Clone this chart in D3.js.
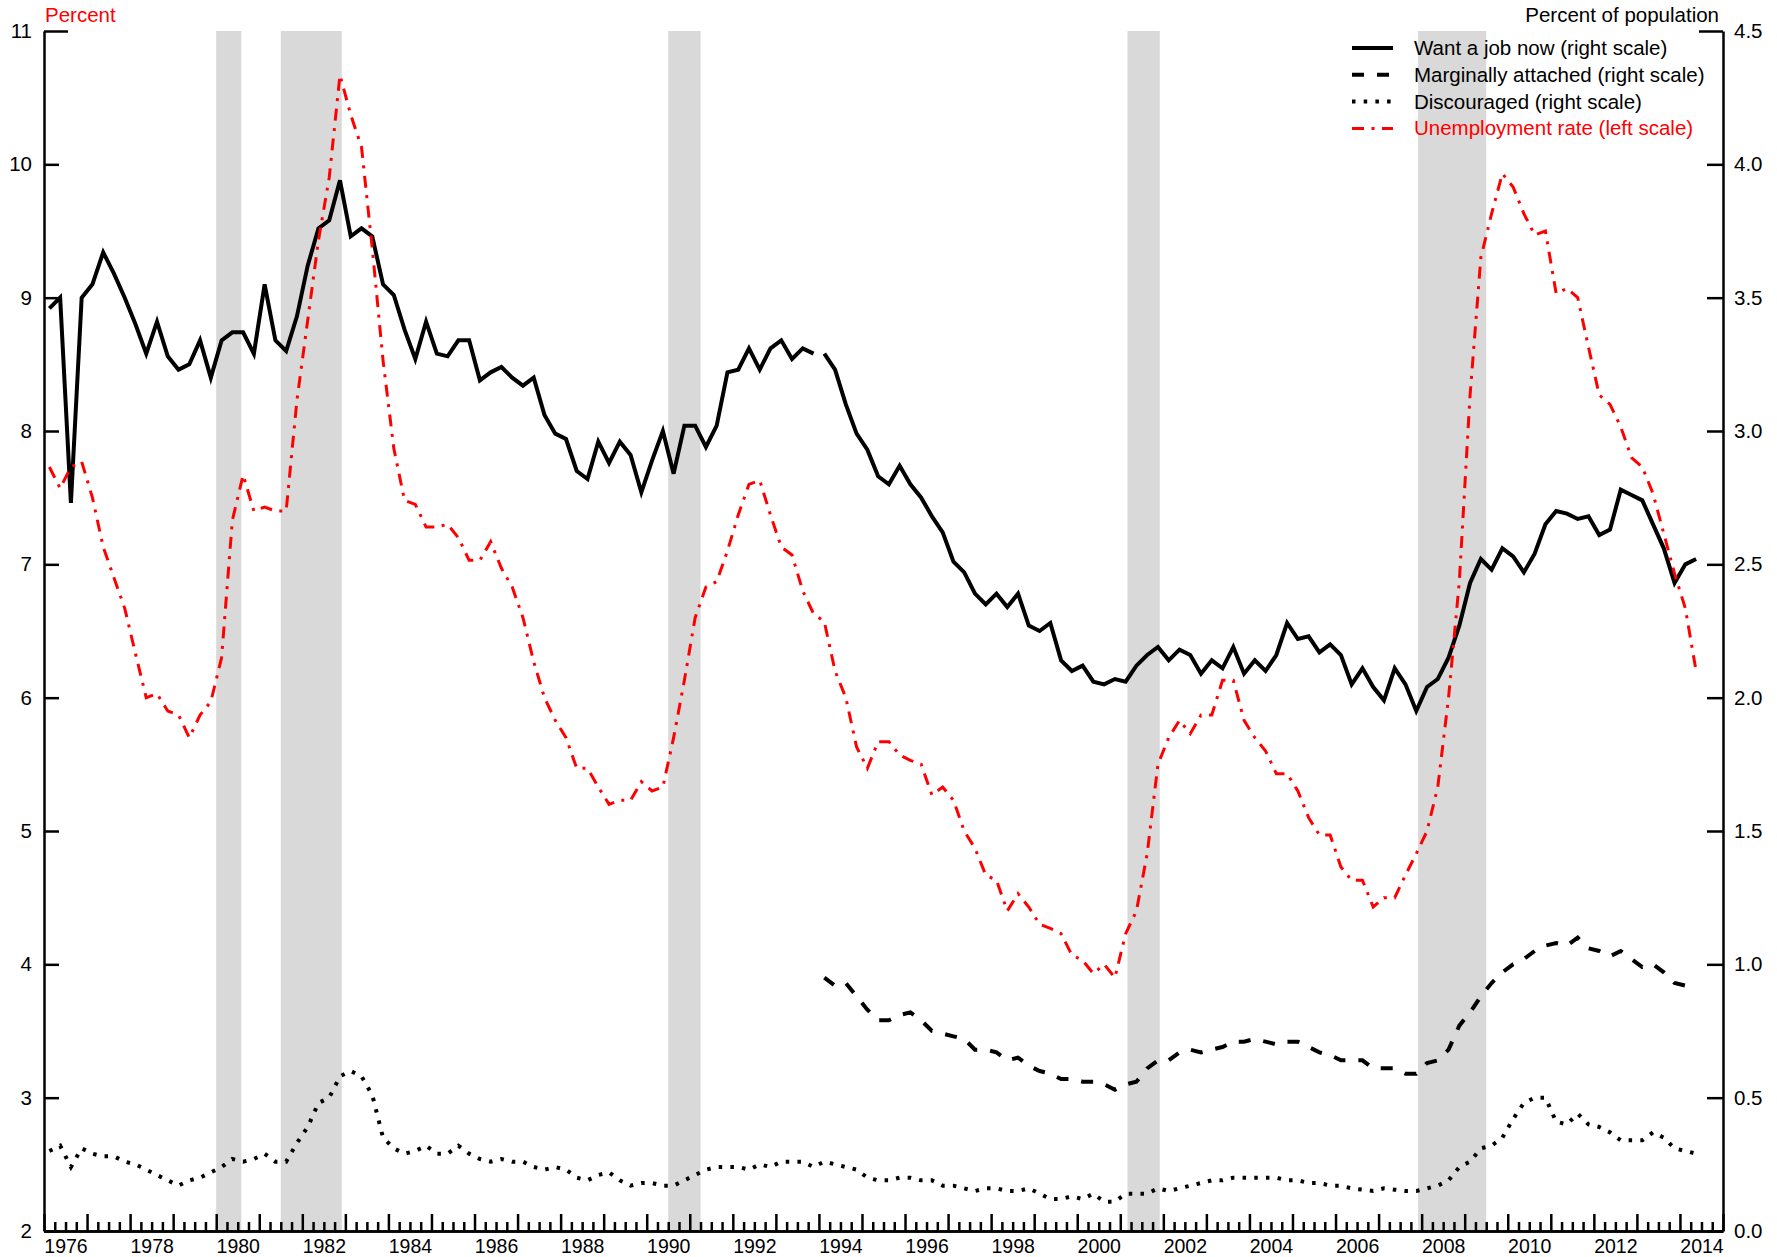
<!DOCTYPE html>
<html>
<head>
<meta charset="utf-8">
<script src="https://cdn.jsdelivr.net/npm/d3@7"></script>
<style>
  body { margin: 0; background: #fff; }
  text { font-family: "Liberation Sans", Arial, sans-serif; }
</style>
</head>
<body>
<script>
// Define SVG area dimensions
const svgWidth = 1777;
const svgHeight = 1257;

// Define the chart's margins as an object
const margin = {
  top: 31,
  right: 54,
  bottom: 26,
  left: 44
};

// Define dimensions of the chart area
const chartWidth = svgWidth - margin.left - margin.right;
const chartHeight = svgHeight - margin.top - margin.bottom;

// Quarterly data, the first value is 1976 Q1
const firstYear = 1976;

// Unemployment rate, percent (left scale), 1976Q1 - 2014Q2
const unemploymentRate = [
  7.73, 7.57, 7.73, 7.77,  7.50, 7.13, 6.90, 6.67,  6.33, 6.00, 6.03, 5.90,  5.87, 5.70, 5.87, 5.97,
  6.30, 7.33, 7.67, 7.40,  7.43, 7.40, 7.40, 8.23,  8.83, 9.43, 9.90, 10.67, 10.37, 10.13, 9.37, 8.53,
  7.87, 7.48, 7.45, 7.28,  7.28, 7.30, 7.20, 7.03,  7.03, 7.17, 6.97, 6.83,  6.60, 6.27, 6.00, 5.83,
  5.70, 5.47, 5.47, 5.33,  5.20, 5.23, 5.23, 5.37,  5.30, 5.33, 5.70, 6.13,  6.60, 6.83, 6.87, 7.10,
  7.37, 7.60, 7.63, 7.37,  7.13, 7.07, 6.80, 6.63,  6.57, 6.20, 6.00, 5.63,  5.47, 5.67, 5.67, 5.57,
  5.53, 5.50, 5.27, 5.33,  5.23, 5.00, 4.87, 4.67,  4.63, 4.40, 4.53, 4.43,  4.30, 4.27, 4.23, 4.07,
  4.03, 3.93, 4.00, 3.90,  4.23, 4.40, 4.83, 5.50,  5.70, 5.83, 5.73, 5.87,  5.87, 6.13, 6.13, 5.83,
  5.70, 5.60, 5.43, 5.43,  5.30, 5.10, 4.97, 4.97,  4.73, 4.63, 4.63, 4.43,  4.50, 4.50, 4.67, 4.83,
  5.00, 5.33, 6.00, 6.87,  8.27, 9.30, 9.63, 9.93,  9.83, 9.63, 9.47, 9.50,  9.03, 9.07, 9.00, 8.63,
  8.27, 8.20, 8.03, 7.80,  7.73, 7.53, 7.23, 6.93,  6.67, 6.20
];

// Want a job now, percent of population (right scale), old survey 1976Q1 - 1993Q4
const wantJobOld = [
  3.46, 3.50, 2.73, 3.50,  3.55, 3.67, 3.59, 3.50,  3.40, 3.29, 3.41, 3.28,  3.23, 3.25, 3.34, 3.20,
  3.34, 3.37, 3.37, 3.29,  3.55, 3.34, 3.30, 3.43,  3.62, 3.76, 3.79, 3.94,  3.73, 3.76, 3.73, 3.55,
  3.51, 3.38, 3.27, 3.41,  3.29, 3.28, 3.34, 3.34,  3.19, 3.22, 3.24, 3.20,  3.17, 3.20, 3.06, 2.99,
  2.97, 2.85, 2.82, 2.96,  2.88, 2.96, 2.91, 2.77,  2.89, 3.00, 2.84, 3.02,  3.02, 2.94, 3.02, 3.22,
  3.23, 3.31, 3.23, 3.31,  3.34, 3.27, 3.31, 3.29
];

// Want a job now, redesigned survey 1994Q1 - 2014Q2
const wantJobNew = [
  3.29, 3.23, 3.10, 2.99,  2.93, 2.83, 2.80, 2.87,  2.80, 2.75, 2.68, 2.62,  2.51, 2.47, 2.39, 2.35,
  2.39, 2.34, 2.39, 2.27,  2.25, 2.28, 2.14, 2.10,  2.12, 2.06, 2.05, 2.07,  2.06, 2.12, 2.16, 2.19,
  2.14, 2.18, 2.16, 2.09,  2.14, 2.11, 2.19, 2.09,  2.14, 2.10, 2.16, 2.28,  2.22, 2.23, 2.17, 2.20,
  2.16, 2.05, 2.11, 2.04,  1.99, 2.11, 2.05, 1.95,  2.04, 2.07, 2.15, 2.27,  2.43, 2.52, 2.48, 2.56,
  2.53, 2.47, 2.54, 2.65,  2.70, 2.69, 2.67, 2.68,  2.61, 2.63, 2.78, 2.76,  2.74, 2.65, 2.56, 2.43,
  2.50, 2.52
];

// Marginally attached, percent of population (right scale), 1994Q1 - 2014Q2
const marginallyAttached = [
  0.95, 0.92, 0.93, 0.88,  0.83, 0.79, 0.79, 0.81,  0.82, 0.79, 0.75, 0.74,  0.73, 0.72, 0.68, 0.68,
  0.67, 0.64, 0.65, 0.62,  0.60, 0.59, 0.57, 0.57,  0.56, 0.56, 0.55, 0.53,  0.55, 0.56, 0.61, 0.64,
  0.64, 0.67, 0.68, 0.67,  0.68, 0.69, 0.71, 0.71,  0.72, 0.71, 0.70, 0.71,  0.71, 0.69, 0.67, 0.66,
  0.64, 0.64, 0.64, 0.61,  0.61, 0.61, 0.59, 0.59,  0.63, 0.64, 0.68, 0.77,  0.82, 0.88, 0.93, 0.97,
  1.00, 1.02, 1.05, 1.07,  1.08, 1.07, 1.10, 1.06,  1.05, 1.03, 1.05, 1.02,  0.99, 1.00, 0.97, 0.93,
  0.92, 0.90
];

// Discouraged, percent of population (right scale), 1976Q1 - 2014Q2
const discouraged = [
  0.30, 0.32, 0.24, 0.31,  0.29, 0.28, 0.28, 0.26,  0.25, 0.23, 0.21, 0.19,  0.17, 0.19, 0.20, 0.22,
  0.24, 0.27, 0.26, 0.27,  0.29, 0.26, 0.26, 0.33,  0.39, 0.48, 0.50, 0.58,  0.60, 0.58, 0.51, 0.35,
  0.31, 0.29, 0.30, 0.32,  0.29, 0.29, 0.32, 0.29,  0.27, 0.26, 0.27, 0.26,  0.26, 0.24, 0.23, 0.24,
  0.23, 0.20, 0.19, 0.21,  0.22, 0.19, 0.17, 0.18,  0.18, 0.17, 0.17, 0.19,  0.21, 0.23, 0.24, 0.24,
  0.24, 0.23, 0.25, 0.24,  0.26, 0.26, 0.26, 0.24,  0.26, 0.25, 0.24, 0.23,  0.20, 0.19, 0.19, 0.20,
  0.20, 0.19, 0.19, 0.17,  0.17, 0.16, 0.15, 0.16,  0.16, 0.15, 0.15, 0.16,  0.14, 0.12, 0.12, 0.13,
  0.12, 0.14, 0.11, 0.11,  0.14, 0.14, 0.14, 0.16,  0.15, 0.16, 0.17, 0.18,  0.19, 0.19, 0.20, 0.20,
  0.20, 0.20, 0.20, 0.19,  0.19, 0.18, 0.18, 0.17,  0.17, 0.16, 0.155, 0.15, 0.16, 0.155, 0.15, 0.15,
  0.16, 0.17, 0.19, 0.24,  0.26, 0.31, 0.32, 0.35,  0.42, 0.48, 0.50, 0.50,  0.41, 0.40, 0.44, 0.40,
  0.39, 0.37, 0.34, 0.34,  0.34, 0.37, 0.35, 0.31,  0.30, 0.29
];

// Recessions (start, end) as fractional years
const recessions = [
  [1980.0, 1980.583],
  [1981.5, 1982.917],
  [1990.5, 1991.25],
  [2001.167, 2001.917],
  [2007.917, 2009.5]
];

// Tick labels
const yearLabels = [1976, 1978, 1980, 1982, 1984, 1986, 1988, 1990, 1992, 1994,
  1996, 1998, 2000, 2002, 2004, 2006, 2008, 2010, 2012, 2014];
const leftTicks = [2, 3, 4, 5, 6, 7, 8, 9, 10, 11];
const rightTicks = [0, 0.5, 1, 1.5, 2, 2.5, 3, 3.5, 4, 4.5];

// Legend labels
const legendLabels = [
  "Want a job now (right scale)",
  "Marginally attached (right scale)",
  "Discouraged (right scale)",
  "Unemployment rate (left scale)"
];

// Turn a list of quarterly values into {date, value} points
function toPoints(values, startIndex) {
  return values.map((v, i) => ({ date: firstYear + (startIndex + i + 0.5) / 4, value: v }));
}

// Select body, append SVG area to it, and set its dimensions
let svg = d3.select("body")
  .append("svg")
  .attr("width", svgWidth)
  .attr("height", svgHeight);

// Append a group area, then set its margins
let chartGroup = svg.append("g")
  .attr("transform", `translate(${margin.left}, ${margin.top})`);

// Scales
let xScale = d3.scaleLinear()
  .domain([1976, 2015])
  .range([0, chartWidth]);

let yLeft = d3.scaleLinear()
  .domain([2, 11])
  .range([chartHeight, 0]);

let yRight = d3.scaleLinear()
  .domain([0, 4.5])
  .range([chartHeight, 0]);

// Recession shading
chartGroup.selectAll(".recession")
  .data(recessions)
  .enter()
  .append("rect")
  .attr("x", d => xScale(d[0]))
  .attr("width", d => xScale(d[1]) - xScale(d[0]))
  .attr("y", 0)
  .attr("height", chartHeight)
  .attr("fill", "#d9d9d9");

// Line styles for the four series
const styles = [
  { stroke: "#000", width: 4, dash: null },
  { stroke: "#000", width: 4, dash: "12,13" },
  { stroke: "#000", width: 4, dash: "3.5,8.2" },
  { stroke: "#ff0000", width: 3, dash: "12,7.5,3,7.5" }
];

let rightLine = d3.line()
  .x(d => xScale(d.date))
  .y(d => yRight(d.value));

let leftLine = d3.line()
  .x(d => xScale(d.date))
  .y(d => yLeft(d.value));

function drawLine(points, lineFn, style) {
  chartGroup.append("path")
    .attr("d", lineFn(points))
    .attr("fill", "none")
    .attr("stroke", style.stroke)
    .attr("stroke-width", style.width)
    .attr("stroke-dasharray", style.dash);
}

drawLine(toPoints(discouraged, 0), rightLine, styles[2]);
drawLine(toPoints(marginallyAttached, 72), rightLine, styles[1]);
drawLine(toPoints(wantJobOld, 0), rightLine, styles[0]);
drawLine(toPoints(wantJobNew, 72), rightLine, styles[0]);
drawLine(toPoints(unemploymentRate, 0), leftLine, styles[3]);

// Axes
let leftAxis = d3.axisLeft(yLeft)
  .tickValues(leftTicks)
  .tickFormat(d3.format("d"))
  .tickSize(-15)
  .tickSizeOuter(0)
  .tickPadding(12);

let rightAxis = d3.axisRight(yRight)
  .tickValues(rightTicks)
  .tickFormat(d3.format(".1f"))
  .tickSize(-16)
  .tickSizeOuter(0)
  .tickPadding(11);

let yearAxis = d3.axisBottom(xScale)
  .tickValues(d3.range(1976, 2016))
  .tickFormat("")
  .tickSize(-17)
  .tickSizeOuter(0);

let quarterAxis = d3.axisBottom(xScale)
  .tickValues(d3.range(1976, 2015.01, 0.25).filter(d => d % 1 !== 0))
  .tickFormat("")
  .tickSize(-9)
  .tickSizeOuter(0);

let labelAxis = d3.axisBottom(xScale)
  .tickValues(yearLabels.map(y => y + 0.5))
  .tickFormat(d => String(Math.floor(d)))
  .tickSize(0)
  .tickPadding(8);

let leftG = chartGroup.append("g").classed("axis", true).call(leftAxis);
let rightG = chartGroup.append("g").classed("axis", true)
  .attr("transform", `translate(${chartWidth}, 0)`)
  .call(rightAxis);
let quarterG = chartGroup.append("g").classed("axis", true)
  .attr("transform", `translate(0, ${chartHeight})`)
  .call(quarterAxis);
let yearG = chartGroup.append("g").classed("axis", true)
  .attr("transform", `translate(0, ${chartHeight})`)
  .call(yearAxis);
let labelG = chartGroup.append("g").classed("axis", true)
  .attr("transform", `translate(0, ${chartHeight})`)
  .call(labelAxis);
labelG.select(".domain").remove();

// Top ticks are drawn longer
leftG.selectAll(".tick").filter(d => d === 11).select("line").attr("x2", 24);
rightG.selectAll(".tick").filter(d => d === 4.5).select("line").attr("x2", -24);

chartGroup.selectAll(".axis path, .axis line")
  .attr("stroke", "#000")
  .attr("stroke-width", 2.5);

leftG.selectAll("text").attr("font-size", 20.5).attr("fill", "#000");
rightG.selectAll("text").attr("font-size", 20.5).attr("fill", "#000");
labelG.selectAll("text").attr("font-size", 19.5).attr("fill", "#000");
chartGroup.selectAll(".axis").attr("font-family", null);

// Axis titles
svg.append("text")
  .attr("x", 45)
  .attr("y", 22)
  .attr("font-size", 20.5)
  .attr("fill", "#ff0000")
  .text("Percent");

svg.append("text")
  .attr("x", 1719)
  .attr("y", 22)
  .attr("text-anchor", "end")
  .attr("font-size", 20.5)
  .attr("fill", "#000")
  .text("Percent of population");

// Legend
let legend = svg.append("g")
  .attr("transform", "translate(1352, 48)");

legendLabels.forEach((label, i) => {
  let row = legend.append("g").attr("transform", `translate(0, ${i * 26.8})`);
  row.append("line")
    .attr("x1", 0)
    .attr("x2", 41)
    .attr("stroke", styles[i].stroke)
    .attr("stroke-width", styles[i].width)
    .attr("stroke-dasharray", styles[i].dash);
  row.append("text")
    .attr("x", 62)
    .attr("y", 7)
    .attr("font-size", 20.5)
    .attr("fill", i === 3 ? "#ff0000" : "#000")
    .text(label);
});
</script>
</body>
</html>
